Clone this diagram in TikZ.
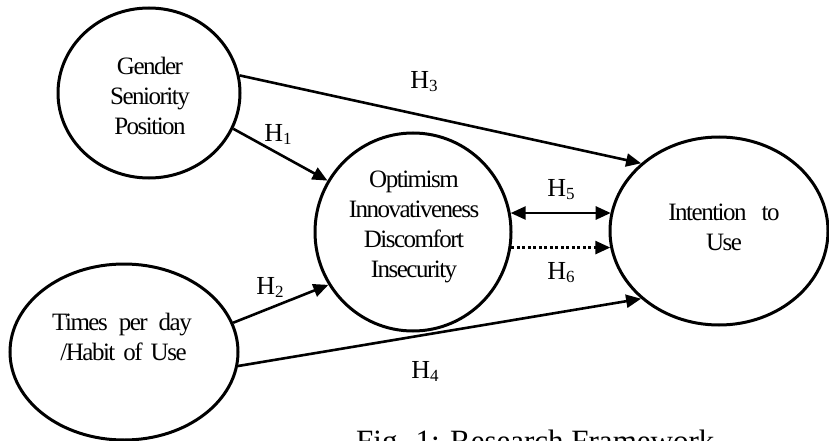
\documentclass[tikz,border=0pt]{standalone}
\usepackage{fontspec}
\setmainfont{Liberation Serif}
\newfontfamily\tightfont[LetterSpace=-6]{Liberation Serif}
\usetikzlibrary{shapes.geometric,arrows.meta}
% hypothesis label: H with a lowered index
\newcommand{\hyp}[1]{H\raisebox{-3pt}{\fontsize{17}{17}\selectfont #1}}

\begin{document}
\begin{tikzpicture}[x=1pt,y=-1pt,
  construct/.style={draw, ellipse, line width=3pt, inner sep=0pt},
  ctext/.style={align=center, inner sep=0pt, font=\tightfont\fontsize{25}{30}\selectfont},
  lbl/.style={inner sep=0pt, font=\fontsize{26}{26}\selectfont},
  link/.style={line width=2.6pt, -{Triangle[length=15pt,width=13pt]}},
  dotlink/.style={link, dash pattern=on 3pt off 2.5pt},
]
\path[use as bounding box] (0,0) rectangle (829,441);
\clip (0,0) rectangle (829,441);

% constructs
\node[construct, minimum width=182pt, minimum height=170pt] (dem) at (149,93) {};
\node[construct, minimum width=196pt, minimum height=198pt] (opt) at (413,232) {};
\node[construct, minimum width=228pt, minimum height=176pt] (hab) at (124,352) {};
\node[construct, minimum width=218pt, minimum height=188pt] (int) at (719,231) {};

\node[ctext] (demtext) at (150,96) {Gender\\Seniority\\Position};
\node[ctext] (opttext) at (414,227) {Optimism\\Innovativeness\\Discomfort\\Insecurity};
\node[ctext] (habtext) at (122,337) {Times\hspace{11pt}per\hspace{11pt}day\\\hspace{3pt}/Habit\hspace{8pt}of\hspace{8pt}Use};
\node[ctext] (inttext) at (724,227) {Intention\hspace{15pt}to\\Use};

% hypothesised paths
\draw[link] (dem.11) -- (int.139);
\draw[link] (dem.-23) -- (opt.149.5);
\draw[link] (hab.15) -- (opt.212.5);
\draw[link] (hab.-7.4) -- (int.221);
\draw[line width=2.6pt, {Triangle[length=15pt,width=13pt]}-{Triangle[length=15pt,width=13pt]}]
  (opt.11) -- (opt.11 -| int.170);
\draw[dotlink] (opt.-9) -- (opt.-9 -| int.189);

% path labels
\node[lbl] (h1) at (278,134) {\hyp{1}};
\node[lbl] (h2) at (270,287) {\hyp{2}};
\node[lbl] (h3) at (424,82) {\hyp{3}};
\node[lbl] (h4) at (425,371) {\hyp{4}};
\node[lbl] (h5) at (561,190) {\hyp{5}};
\node[lbl] (h6) at (561,273) {\hyp{6}};

% caption
\node[anchor=base west, inner sep=0pt, font=\fontsize{31}{31}\selectfont] (cap) at (356,451) {Fig. 1: Research Framework};
\end{tikzpicture}
\end{document}
